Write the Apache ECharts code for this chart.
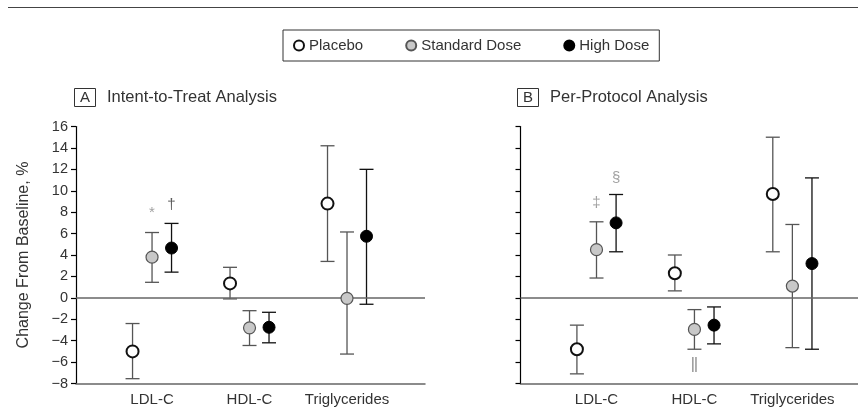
<!DOCTYPE html>
<html><head><meta charset="utf-8">
<script src="https://cdn.jsdelivr.net/npm/echarts@6/dist/echarts.min.js"></script>
<style>html,body{margin:0;padding:0;background:#fff}#c{width:858px;height:409px}</style>
</head><body><div id="c"></div>
<script>
const categories = ['LDL-C', 'HDL-C', 'Triglycerides'];
const groups = ['Placebo', 'Standard Dose', 'High Dose'];
const yTicks = [-8, 16, 2];
// Panel A: Intent-to-Treat
const ittPlaceboMean = [-5.0, 1.35, 8.8];
const ittPlaceboLow  = [-7.55, -0.1, 3.4];
const ittPlaceboHigh = [-2.4, 2.85, 14.2];
const ittStandardMean = [3.8, -2.8, -0.05];
const ittStandardLow  = [1.45, -4.45, -5.25];
const ittStandardHigh = [6.1, -1.2, 6.15];
const ittHighMean = [4.65, -2.75, 5.75];
const ittHighLow  = [2.4, -4.2, -0.6];
const ittHighHigh = [6.95, -1.35, 12.0];
// Panel B: Per-Protocol
const ppPlaceboMean = [-4.8, 2.3, 9.7];
const ppPlaceboLow  = [-7.1, 0.65, 4.3];
const ppPlaceboHigh = [-2.55, 4.0, 15.0];
const ppStandardMean = [4.5, -2.95, 1.1];
const ppStandardLow  = [1.85, -4.8, -4.65];
const ppStandardHigh = [7.1, -1.1, 6.85];
const ppHighMean = [7.0, -2.55, 3.2];
const ppHighLow  = [4.3, -4.3, -4.8];
const ppHighHigh = [9.65, -0.85, 11.2];
// significance marks: [panel, category index, group index, y value, text]
const marks = [
  [0, 0, 1, 7.9, '*'],
  [0, 0, 2, 8.7, '†'],
  [1, 0, 1, 8.9, '‡'],
  [1, 0, 2, 11.2, '§'],
  [1, 1, 1, -6.45, '‖']
];

const FONT = 'Liberation Sans, Arial, sans-serif';
const TXT = '#333';
const offsets = [-0.2, 0, 0.2];
const styles = [
  {color: '#fff', borderColor: '#111', borderWidth: 2, opacity: 1},
  {color: '#c8c8c8', borderColor: '#555', borderWidth: 1.2, opacity: 1},
  {color: '#000', borderColor: '#000', borderWidth: 1, opacity: 1}
];
const barColors = ['#555', '#555', '#111'];
const panels = [
  [[ittPlaceboMean, ittPlaceboLow, ittPlaceboHigh], [ittStandardMean, ittStandardLow, ittStandardHigh], [ittHighMean, ittHighLow, ittHighHigh]],
  [[ppPlaceboMean, ppPlaceboLow, ppPlaceboHigh], [ppStandardMean, ppStandardLow, ppStandardHigh], [ppHighMean, ppHighLow, ppHighHigh]]
];

const grids = [
  {left: 76, right: 433, top: 126.5, bottom: 25.5},
  {left: 520.5, right: 0, top: 126.5, bottom: 25.5}
];
const xRanges = [[0.22, 3.8], [0.224, 3.67]];

const xAxes = [0, 1].map(i => ({
  type: 'value', gridIndex: i, min: xRanges[i][0], max: xRanges[i][1],
  splitLine: {show: false},
  axisLine: {show: true, onZero: false, lineStyle: {color: '#666', width: 1.5}},
  axisTick: {show: false},
  axisLabel: {
    show: true, customValues: [1, 2, 3], margin: 9,
    formatter: v => categories[Math.round(v) - 1] || '',
    color: TXT, fontFamily: FONT, fontSize: 15
  }
}));
const yAxes = [0, 1].map(i => ({
  type: 'value', gridIndex: i, min: yTicks[0], max: yTicks[1], interval: yTicks[2],
  splitLine: {show: false},
  axisLine: {show: true, lineStyle: {color: '#000', width: 1.2}},
  axisTick: {show: true, length: 5, lineStyle: {color: '#000', width: 1.2}},
  axisLabel: {show: i === 0, margin: 8, color: TXT, fontFamily: FONT, fontSize: 14.5,
    formatter: v => (v < 0 ? '\u2212' + Math.abs(v) : String(v))},
  name: i === 0 ? 'Change From Baseline, %' : '',
  nameLocation: 'middle', nameRotate: 90, nameGap: 44,
  nameTextStyle: {color: TXT, fontFamily: FONT, fontSize: 16}
}));

const series = [];
[0, 1].forEach(p => {
  series.push({
    type: 'line', xAxisIndex: p, yAxisIndex: p, data: [], silent: true,
    markLine: {symbol: 'none', silent: true, label: {show: false},
      lineStyle: {color: '#666', width: 1.5, type: 'solid'}, data: [{yAxis: 0}]}
  });
  panels[p].forEach((g, gi) => {
    const [mean, low, high] = g;
    series.push({
      type: 'custom', xAxisIndex: p, yAxisIndex: p, silent: true,
      data: categories.map((c, ci) => [ci + 1 + offsets[gi], low[ci], high[ci]]),
      encode: {x: 0, y: [1, 2]},
      renderItem: (params, api) => {
        const x = api.value(0);
        const a = api.coord([x, api.value(1)]);
        const b = api.coord([x, api.value(2)]);
        const st = {stroke: barColors[gi], lineWidth: 1.3};
        const hw = 7;
        return {type: 'group', children: [
          {type: 'line', shape: {x1: a[0], y1: a[1], x2: b[0], y2: b[1]}, style: st},
          {type: 'line', shape: {x1: a[0] - hw, y1: a[1], x2: a[0] + hw, y2: a[1]}, style: st},
          {type: 'line', shape: {x1: b[0] - hw, y1: b[1], x2: b[0] + hw, y2: b[1]}, style: st}
        ]};
      },
      z: 2
    });
    series.push({
      type: 'scatter', name: groups[gi], xAxisIndex: p, yAxisIndex: p,
      symbol: 'circle', symbolSize: 12, itemStyle: styles[gi],
      data: categories.map((c, ci) => [ci + 1 + offsets[gi], mean[ci]]),
      z: 5
    });
  });
  series.push({
    type: 'scatter', xAxisIndex: p, yAxisIndex: p, symbolSize: 0, silent: true,
    data: marks.filter(m => m[0] === p).map(m => ({
      value: [m[1] + 1 + offsets[m[2]], m[3]],
      label: {show: true, position: 'inside', formatter: m[4], fontFamily: FONT,
        fontSize: m[4] === '‖' ? 20 : 15,
        color: m[4] === '†' ? '#333' : '#888'}
    }))
  });
});

const chart = echarts.init(document.getElementById('c'));
chart.setOption({
  animation: false,
  backgroundColor: '#fff',
  grid: grids,
  xAxis: xAxes,
  yAxis: yAxes,
  legend: {
    data: groups, left: 283, top: 30, orient: 'horizontal',
    padding: [8, 10], itemGap: 42, itemWidth: 10, itemHeight: 10,
    borderColor: '#333', borderWidth: 1,
    textStyle: {color: TXT, fontFamily: FONT, fontSize: 15}
  },
  title: [
    {text: 'A', left: 74, top: 88, padding: [2, 6], borderColor: '#333', borderWidth: 1,
      textStyle: {color: TXT, fontFamily: FONT, fontSize: 15, fontWeight: 'normal', lineHeight: 15}},
    {text: 'Intent-to-Treat Analysis', left: 107, top: 89, padding: 0,
      textStyle: {color: TXT, fontFamily: FONT, fontSize: 16.5, fontWeight: 'normal'}},
    {text: 'B', left: 517, top: 88, padding: [2, 6], borderColor: '#333', borderWidth: 1,
      textStyle: {color: TXT, fontFamily: FONT, fontSize: 15, fontWeight: 'normal', lineHeight: 15}},
    {text: 'Per-Protocol Analysis', left: 550, top: 89, padding: 0,
      textStyle: {color: TXT, fontFamily: FONT, fontSize: 16.5, fontWeight: 'normal'}}
  ],
  graphic: [
    {type: 'line', shape: {x1: 8, y1: 7.5, x2: 858, y2: 7.5}, style: {stroke: '#444', lineWidth: 1.2}}
  ],
  series: series
});
</script></body></html>
